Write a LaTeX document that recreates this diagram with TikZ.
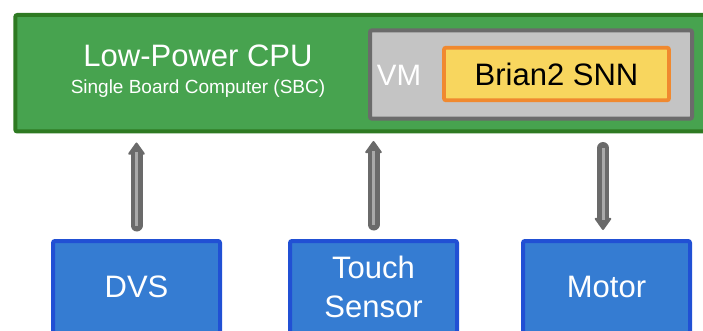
\documentclass[tikz,border=0pt]{standalone}
\usepackage{fontspec}
\setmainfont{Liberation Sans}
\usetikzlibrary{arrows.meta}

\definecolor{cpufill}{HTML}{47A34F}
\definecolor{cpudraw}{HTML}{2E7A22}
\definecolor{vmfill}{HTML}{C4C4C4}
\definecolor{vmdraw}{HTML}{6B6B6B}
\definecolor{snnfill}{HTML}{F8D65E}
\definecolor{snndraw}{HTML}{F0892F}
\definecolor{devfill}{HTML}{357CD2}
\definecolor{devdraw}{HTML}{2150D4}
\definecolor{arrdark}{HTML}{6A6A6A}
\definecolor{arrlight}{HTML}{A9A9A9}

\tikzset{
  box/.style={rectangle, rounded corners=2pt, inner sep=0pt, outer sep=0pt, line width=4pt},
  cpubox/.style={box, draw=cpudraw, fill=cpufill},
  vmbox/.style={box, draw=vmdraw, fill=vmfill},
  snnbox/.style={box, draw=snndraw, fill=snnfill, line width=3.8pt,
    font=\fontsize{31}{37}\selectfont, text=black},
  devbox/.style={box, draw=devdraw, fill=devfill, text=white, align=center,
    minimum width=167pt, minimum height=92pt,
    font=\fontsize{31}{39.4}\selectfont},
  label/.style={text=white, anchor=base, inner sep=0pt},
  bigarrow/.style={draw=arrdark, line width=12pt, line cap=round,
    -{Triangle[width=18pt,length=13pt,line width=2pt,round]},
    postaction={draw=arrlight, line width=3pt, line cap=butt, -,
      shorten >=10pt}}
}

\begin{document}
\begin{tikzpicture}[x=1pt,y=-1pt]
\useasboundingbox (0,0) rectangle (703,331);
\clip (0,0) rectangle (703,331);

% computer board, running past the right edge
\node[cpubox, minimum width=724.7pt, minimum height=116.5pt] (cpu) at (377.65,73.25) {};
\node[label, font=\fontsize{31}{37}\selectfont] (cputitle) at (198,67) {Low-Power CPU};
\node[label, font=\fontsize{19}{23}\selectfont] (cpusub) at (198,94) {Single Board Computer (SBC)};

% virtual machine with the network inside
\node[vmbox, minimum width=322pt, minimum height=88.4pt] (vm) at (531,74.5) {};
\node[label, font=\fontsize{29.5}{35}\selectfont] (vmtext) at (399,86) {VM};
\node[snnbox, minimum width=225pt, minimum height=52.6pt] (snn) at (556.5,74) {Brian2 SNN};

% peripherals
\node[devbox] (dvs) at (136.5,287) {DVS};
\node[devbox] (touch) at (373.5,287) {Touch\\Sensor};
\node[devbox] (motor) at (606.5,287) {Motor};

% data links
\coordinate (c1) at (cpu.south -| dvs.north);
\coordinate (c2) at (cpu.south -| touch.north);
\path (motor.north) ++(-3.5,0) coordinate (m3);
\coordinate (c3) at (cpu.south -| m3);

\draw[bigarrow] ([yshift=15.5pt]dvs.north) -- ([yshift=-11pt]c1);
\draw[bigarrow] ([yshift=16.5pt]touch.north) -- ([yshift=-9.5pt]c2);
\draw[bigarrow] ([yshift=-16.5pt]c3) -- ([yshift=11pt]m3);
\end{tikzpicture}
\end{document}
